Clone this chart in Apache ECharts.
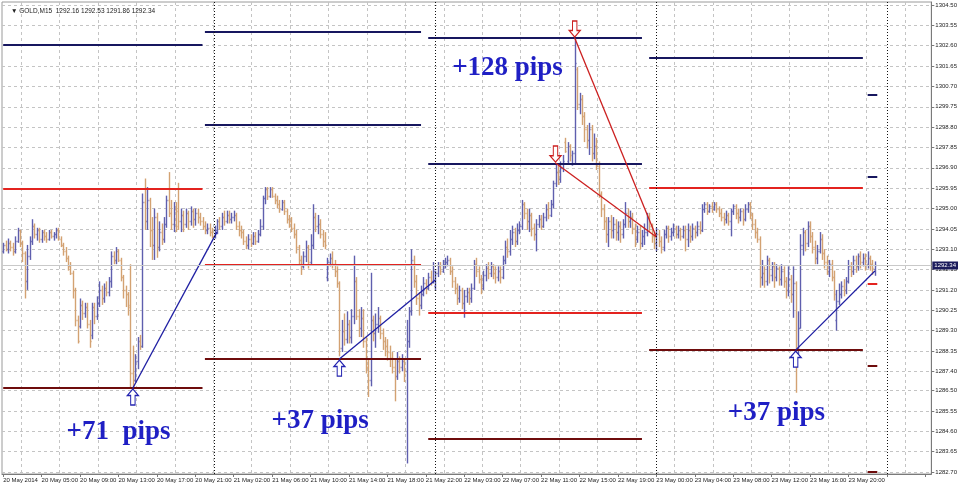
<!DOCTYPE html>
<html>
<head>
<meta charset="utf-8">
<title>GOLD,M15</title>
<script src="https://cdn.jsdelivr.net/npm/echarts@6.0.0/dist/echarts.min.js"></script>
<style>
  html, body { margin: 0; padding: 0; background: #fff; }
  #chart { width: 960px; height: 487px; }
</style>
</head>
<body>
<div id="chart"></div>
<script>
// 15-minute bars, [open, close, low, high], one array per trading day
var day20 = [
  [1293.0,1293.3,1292.9,1293.4],[1293.3,1293.1,1293.0,1293.5],[1293.1,1293.4,1292.9,1293.6],[1293.4,1293.2,1293.0,1293.5],
  [1293.2,1293.0,1292.8,1293.4],[1293.0,1293.5,1292.9,1293.7],[1293.5,1294.0,1293.4,1294.1],[1294.0,1293.4,1293.2,1294.0],
  [1293.4,1292.9,1292.5,1293.5],[1292.9,1291.6,1290.8,1293.0],[1291.6,1292.8,1291.2,1293.3],[1292.8,1293.5,1292.6,1293.7],
  [1293.5,1294.2,1293.3,1294.5],[1294.2,1293.8,1293.6,1294.3],[1293.8,1294.0,1293.5,1294.1],[1294.0,1293.6,1293.4,1294.1],
  [1293.6,1293.9,1293.4,1294.0],[1293.9,1293.7,1293.5,1294.0],[1293.7,1293.6,1293.4,1293.9],[1293.6,1293.9,1293.5,1294.0],
  [1293.9,1293.7,1293.6,1294.0],[1293.7,1293.8,1293.5,1293.9],[1293.8,1294.0,1293.6,1294.1],[1294.0,1293.6,1293.5,1294.1],
  [1293.6,1293.3,1293.2,1293.7],[1293.3,1293.0,1292.8,1293.4],[1293.0,1292.7,1292.5,1293.2],[1292.7,1292.3,1292.1,1292.8],
  [1292.3,1292.0,1291.9,1292.5],[1292.0,1291.2,1290.8,1292.1],[1291.2,1289.8,1289.5,1291.3],[1289.8,1288.8,1288.7,1290.0],
  [1289.5,1290.5,1289.4,1290.8],[1290.5,1290.1,1289.8,1290.7],[1290.1,1290.4,1289.9,1290.6],[1290.4,1289.6,1289.4,1290.6],
  [1289.6,1288.8,1288.5,1289.8],[1289.1,1290.4,1288.9,1290.6],[1290.4,1290.0,1289.6,1290.6],[1290.0,1290.6,1289.8,1290.9],
  [1290.6,1291.2,1290.4,1291.6],[1291.2,1290.8,1290.5,1291.4],[1290.8,1291.3,1290.6,1291.5],[1291.3,1291.1,1290.9,1291.6],
  [1291.1,1291.6,1290.9,1291.8],[1291.6,1292.8,1291.3,1293.0],[1292.8,1292.6,1292.4,1293.0],[1292.6,1293.0,1292.4,1293.2],
  [1293.0,1292.6,1292.5,1293.1],[1292.6,1291.8,1291.6,1292.7],[1291.8,1291.2,1290.8,1291.9],[1291.2,1291.0,1290.4,1291.4],
  [1291.0,1290.4,1290.0,1291.1],[1290.5,1287.3,1286.6,1292.4],[1287.3,1287.0,1286.6,1288.6],[1287.0,1287.9,1286.9,1288.2],
  [1287.9,1288.8,1287.5,1289.0],[1288.8,1288.6,1288.4,1289.1],[1288.6,1295.3,1288.5,1295.7],[1295.3,1294.4,1294.0,1296.4],
  [1294.4,1295.4,1294.0,1296.0],[1295.4,1294.0,1293.2,1295.5],[1294.0,1293.3,1292.6,1294.6],[1293.3,1294.6,1292.6,1295.0],
  [1294.6,1293.2,1292.7,1294.8],[1293.2,1293.9,1293.0,1294.4],[1293.9,1293.6,1293.3,1294.3],[1293.6,1294.3,1293.4,1294.6],
  [1294.3,1295.4,1294.1,1295.6],[1295.4,1294.8,1294.6,1296.7],[1294.8,1294.3,1294.0,1295.4],[1294.3,1295.0,1293.9,1295.3],
  [1295.0,1294.2,1293.9,1295.3],[1294.9,1294.4,1294.0,1296.2],[1294.4,1294.7,1293.9,1295.0],[1294.7,1294.3,1293.9,1294.9],
  [1294.3,1294.8,1294.1,1295.0],[1294.8,1294.4,1294.0,1294.9],[1294.4,1294.9,1294.2,1295.1],[1294.9,1294.5,1294.1,1295.0],
  [1294.5,1294.8,1294.2,1295.0],[1294.8,1294.6,1294.3,1295.0],[1294.6,1294.4,1294.2,1294.8],[1294.4,1294.2,1294.0,1294.6],
  [1294.2,1294.0,1293.8,1294.4],[1294.0,1294.1,1293.8,1294.3],[1294.1,1293.9,1293.7,1294.3],[1293.9,1293.7,1293.6,1294.1]
];
var day21 = [
  [1293.7,1294.0,1293.6,1294.2],[1294.0,1294.4,1293.8,1294.5],[1294.4,1294.2,1294.0,1294.6],[1294.2,1294.6,1294.0,1294.8],
  [1294.6,1294.4,1294.2,1294.9],[1294.4,1294.7,1294.3,1294.9],[1294.7,1294.5,1294.3,1294.9],[1294.5,1294.6,1294.3,1294.8],
  [1294.6,1294.7,1294.4,1294.9],[1294.7,1294.2,1294.0,1294.8],[1294.2,1294.0,1293.7,1294.4],[1294.0,1293.9,1293.6,1294.2],
  [1293.9,1293.5,1293.3,1294.0],[1293.5,1293.3,1293.1,1293.7],[1293.3,1293.6,1293.1,1293.8],[1293.6,1293.4,1293.2,1293.8],
  [1293.4,1293.7,1293.3,1293.9],[1293.7,1293.5,1293.3,1293.9],[1293.5,1293.8,1293.4,1294.0],[1293.8,1294.2,1293.7,1294.5],
  [1294.2,1295.5,1294.0,1295.6],[1295.5,1295.9,1295.2,1296.0],[1295.9,1295.6,1295.4,1296.0],[1295.6,1295.9,1295.5,1296.0],
  [1295.9,1295.6,1295.5,1296.0],[1295.6,1295.4,1295.2,1295.7],[1295.4,1295.2,1295.0,1295.6],[1295.2,1295.0,1294.8,1295.4],
  [1295.0,1295.3,1294.9,1295.4],[1295.3,1294.9,1294.7,1295.4],[1294.9,1294.5,1294.3,1295.0],[1294.5,1294.4,1294.1,1294.7],
  [1294.4,1294.1,1293.9,1294.6],[1294.1,1293.8,1293.6,1294.3],[1293.8,1293.2,1292.9,1294.0],[1293.2,1292.6,1292.4,1293.3],
  [1292.6,1292.3,1291.9,1292.8],[1292.3,1292.8,1292.2,1293.0],[1292.8,1293.2,1292.5,1293.5],[1293.2,1292.5,1292.2,1293.3],
  [1292.5,1293.3,1292.4,1293.8],[1293.3,1294.6,1293.1,1295.2],[1294.6,1294.2,1293.9,1294.8],[1294.2,1294.3,1293.8,1294.7],
  [1294.3,1293.8,1293.6,1294.5],[1293.8,1293.5,1293.2,1294.0],[1293.5,1293.3,1293.1,1293.9],[1291.8,1292.5,1291.6,1292.7],
  [1292.5,1292.7,1292.3,1292.9],[1292.7,1292.4,1292.2,1293.0],[1292.4,1292.1,1291.8,1292.6],[1292.1,1291.5,1291.3,1292.3],
  [1291.5,1288.5,1288.1,1291.6],[1288.5,1289.3,1288.3,1289.8],[1289.3,1288.9,1288.6,1290.1],[1288.9,1289.6,1288.7,1290.2],
  [1289.6,1289.0,1288.7,1289.8],[1289.0,1290.0,1288.7,1290.3],[1290.0,1291.6,1289.6,1292.8],[1291.6,1290.0,1289.8,1291.8],
  [1290.0,1289.4,1289.0,1290.3],[1289.4,1289.9,1289.0,1290.4],[1289.9,1288.8,1288.5,1290.3],[1288.8,1287.6,1287.3,1289.0],
  [1287.6,1287.0,1286.2,1288.0],[1287.0,1289.8,1286.7,1292.0],[1289.8,1289.2,1288.8,1290.0],[1289.2,1289.6,1288.5,1290.1],
  [1289.6,1289.9,1289.2,1290.4],[1289.9,1289.2,1288.9,1290.0],[1289.2,1288.8,1288.4,1289.4],[1288.8,1288.6,1288.1,1289.0],
  [1288.6,1288.3,1287.9,1288.9],[1288.3,1288.0,1287.6,1288.6],[1288.0,1287.6,1287.3,1288.3],[1287.6,1287.2,1286.0,1288.0],
  [1287.2,1287.9,1287.0,1288.3],[1287.9,1287.6,1287.3,1288.1],[1287.6,1287.9,1287.4,1288.2],[1287.9,1287.4,1286.9,1288.0],
  [1287.4,1288.8,1283.1,1289.8],[1288.8,1290.2,1288.5,1290.4],[1290.2,1292.6,1290.0,1293.1],[1292.6,1291.6,1291.3,1292.8],
  [1291.6,1290.8,1290.5,1291.9],[1290.8,1290.5,1290.0,1291.1],[1290.5,1291.0,1290.3,1291.4],[1291.0,1291.5,1290.9,1291.8],
  [1291.5,1291.3,1291.0,1291.7],[1291.3,1291.8,1291.2,1292.0],[1291.8,1291.6,1291.4,1292.1],[1291.6,1292.1,1291.5,1292.5]
];
var day22 = [
  [1291.4,1292.0,1291.2,1292.1],[1292.0,1292.3,1291.8,1292.5],[1292.3,1292.1,1291.9,1292.5],[1292.1,1292.4,1292.0,1292.6],
  [1292.4,1292.5,1292.2,1292.7],[1292.5,1292.6,1292.3,1292.8],[1292.6,1292.1,1291.9,1292.7],[1292.1,1291.6,1291.3,1292.3],
  [1291.6,1291.3,1291.0,1291.8],[1291.3,1290.8,1290.5,1291.5],[1290.8,1291.2,1290.6,1291.4],[1291.2,1290.6,1290.3,1291.3],
  [1290.6,1290.9,1289.9,1291.2],[1290.9,1291.1,1290.6,1291.3],[1291.1,1290.8,1290.5,1291.3],[1290.8,1291.3,1290.6,1291.5],
  [1291.3,1292.4,1291.2,1292.6],[1292.4,1292.1,1291.8,1292.7],[1292.1,1291.7,1291.5,1292.3],[1291.7,1291.3,1291.0,1291.9],
  [1291.3,1291.9,1291.2,1292.1],[1291.9,1292.2,1291.6,1292.4],[1292.2,1292.0,1291.7,1292.5],[1292.0,1292.3,1291.8,1292.5],
  [1292.3,1292.0,1291.7,1292.4],[1292.0,1291.8,1291.5,1292.3],[1291.8,1292.1,1291.6,1292.3],[1292.1,1291.8,1291.5,1292.3],
  [1291.8,1292.6,1291.7,1292.8],[1292.6,1293.2,1292.4,1293.5],[1293.2,1293.0,1292.7,1293.6],[1293.0,1293.6,1292.8,1294.0],
  [1293.6,1293.9,1293.3,1294.2],[1293.9,1293.5,1293.2,1294.1],[1293.5,1294.0,1293.3,1294.3],[1294.0,1294.2,1293.8,1294.4],
  [1294.2,1295.2,1294.0,1295.4],[1295.2,1294.8,1294.5,1295.3],[1294.8,1294.4,1294.0,1295.0],[1294.4,1294.7,1293.9,1295.0],
  [1294.7,1294.1,1293.7,1294.8],[1294.1,1293.8,1293.5,1294.3],[1293.8,1294.3,1293.0,1294.5],[1294.3,1294.5,1294.1,1294.7],
  [1294.5,1294.2,1294.0,1294.7],[1294.2,1294.6,1294.1,1294.8],[1294.6,1295.0,1294.4,1295.2],[1295.0,1294.7,1294.5,1295.3],
  [1294.7,1295.2,1294.6,1295.4],[1295.2,1296.2,1295.0,1296.3],[1296.2,1296.7,1296.0,1297.1],[1296.7,1296.4,1296.1,1297.0],
  [1296.4,1296.9,1296.2,1297.2],[1296.9,1297.2,1296.7,1297.5],[1298.1,1297.7,1297.6,1298.3],[1297.2,1297.9,1297.1,1298.1],
  [1297.9,1297.5,1297.2,1298.0],[1297.1,1297.6,1297.0,1297.7],[1297.6,1301.8,1297.1,1303.0],[1301.5,1299.9,1299.6,1301.6],
  [1299.9,1300.1,1299.4,1300.4],[1300.1,1299.3,1298.9,1300.3],[1299.3,1298.7,1298.1,1299.5],[1298.7,1298.2,1297.8,1298.9],
  [1298.2,1298.7,1297.5,1299.0],[1298.7,1297.6,1297.2,1298.9],[1297.6,1297.9,1297.3,1298.5],[1297.9,1297.0,1296.8,1298.3],
  [1297.0,1295.7,1295.5,1297.2],[1295.7,1295.0,1294.6,1295.8],[1295.0,1294.4,1294.0,1295.2],[1294.4,1293.8,1293.4,1294.6],
  [1293.8,1294.4,1293.2,1294.6],[1294.4,1294.0,1293.6,1294.7],[1294.0,1294.3,1293.6,1294.6],[1294.3,1293.9,1293.5,1294.5],
  [1293.9,1294.2,1293.5,1294.4],[1294.2,1293.8,1293.4,1294.4],[1293.8,1294.3,1293.6,1294.5],[1294.3,1294.8,1294.1,1295.3],
  [1294.8,1294.4,1294.1,1295.0],[1294.4,1294.6,1294.1,1294.9],[1294.6,1294.1,1293.8,1294.8],[1294.1,1293.6,1293.2,1294.3],
  [1293.6,1293.9,1293.4,1294.2],[1293.9,1293.4,1293.1,1294.2],[1293.4,1293.7,1293.2,1294.0],[1293.7,1293.9,1293.3,1294.3],
  [1293.9,1294.6,1293.7,1294.8],[1294.6,1294.2,1293.9,1294.8],[1294.2,1293.7,1293.4,1294.3],[1293.7,1293.4,1293.1,1293.9]
];
var day23 = [
  [1293.4,1293.8,1293.0,1294.1],[1293.8,1293.5,1293.2,1294.0],[1293.5,1293.2,1292.9,1293.7],[1293.2,1293.8,1293.0,1294.0],
  [1293.8,1294.1,1293.6,1294.2],[1294.1,1293.7,1293.4,1294.2],[1293.7,1293.9,1293.5,1294.1],[1293.9,1294.1,1293.7,1294.3],
  [1294.1,1293.8,1293.6,1294.2],[1293.8,1294.0,1293.6,1294.2],[1294.0,1293.7,1293.5,1294.1],[1293.7,1294.0,1293.6,1294.2],
  [1294.0,1293.6,1293.0,1294.2],[1293.6,1294.0,1293.2,1294.3],[1294.0,1293.7,1293.4,1294.2],[1293.7,1294.1,1293.5,1294.3],
  [1294.1,1293.9,1293.6,1294.2],[1293.9,1294.2,1293.7,1294.4],[1294.2,1294.0,1293.8,1294.4],[1294.0,1295.0,1293.9,1295.2],
  [1295.0,1295.2,1294.8,1295.3],[1295.2,1294.9,1294.7,1295.3],[1294.9,1295.1,1294.8,1295.2],[1295.1,1295.0,1294.8,1295.3],
  [1295.0,1295.2,1294.9,1295.3],[1295.2,1295.0,1294.8,1295.3],[1295.0,1294.8,1294.6,1295.1],[1294.8,1294.6,1294.4,1295.0],
  [1294.6,1294.5,1294.2,1294.8],[1294.5,1294.7,1294.3,1294.9],[1294.7,1294.4,1294.2,1294.8],[1294.4,1294.9,1293.7,1295.0],
  [1294.9,1295.1,1294.7,1295.2],[1295.1,1294.8,1294.5,1295.2],[1294.8,1294.6,1294.3,1295.0],[1294.6,1294.9,1294.4,1295.0],
  [1294.9,1294.5,1294.2,1295.0],[1294.5,1295.0,1294.4,1295.2],[1295.0,1295.2,1294.8,1295.3],[1295.2,1294.7,1294.5,1295.3],
  [1294.7,1294.3,1294.0,1294.8],[1294.3,1293.9,1293.6,1294.5],[1293.9,1293.6,1293.4,1294.1],[1293.6,1291.8,1291.3,1293.7],
  [1291.8,1292.0,1291.4,1292.6],[1292.0,1291.6,1291.3,1292.3],[1291.6,1292.6,1291.4,1292.8],[1292.6,1291.9,1291.5,1292.7],
  [1291.9,1292.3,1291.6,1292.5],[1292.3,1291.8,1291.3,1292.5],[1291.8,1292.2,1291.6,1292.4],[1292.2,1291.7,1291.4,1292.3],
  [1291.7,1292.1,1291.4,1292.4],[1292.1,1291.6,1291.3,1292.3],[1291.6,1291.2,1290.8,1291.8],[1291.2,1291.7,1290.9,1292.3],
  [1291.7,1291.0,1290.6,1291.9],[1291.0,1291.5,1289.9,1292.3],[1291.5,1288.5,1286.4,1291.6],[1288.5,1289.4,1288.2,1290.2],
  [1289.4,1293.3,1289.4,1293.8],[1293.3,1293.9,1292.8,1294.1],[1293.9,1293.4,1293.0,1294.0],[1293.4,1294.2,1293.2,1294.4],
  [1294.2,1293.7,1293.4,1294.4],[1293.7,1293.2,1292.9,1293.9],[1293.2,1292.7,1292.4,1293.5],[1292.7,1293.0,1292.4,1293.3],
  [1293.0,1293.6,1292.9,1293.9],[1293.6,1292.9,1292.6,1293.8],[1292.9,1292.5,1292.2,1293.1],[1292.5,1292.1,1291.9,1292.8],
  [1292.1,1292.4,1291.8,1292.6],[1292.4,1291.8,1291.6,1292.6],[1291.8,1291.0,1290.7,1292.1],[1289.8,1290.7,1289.3,1291.2],
  [1290.7,1291.0,1290.5,1291.5],[1291.0,1291.4,1290.8,1291.6],[1291.4,1291.2,1290.9,1291.7],[1291.2,1291.6,1291.0,1291.8],
  [1291.6,1292.3,1291.5,1292.6],[1292.3,1292.1,1291.8,1292.5],[1292.1,1292.6,1291.9,1292.8],[1292.6,1292.3,1292.0,1292.8],
  [1292.3,1292.8,1292.1,1292.9],[1292.8,1292.5,1292.2,1293.0],[1292.5,1292.7,1292.3,1292.9],[1292.7,1292.4,1292.1,1292.9],
  [1292.4,1292.7,1292.2,1293.0],[1292.7,1292.4,1292.1,1292.8],[1292.4,1292.2,1291.9,1292.6],[1292.16,1292.34,1291.86,1292.53]
];

var barCount = 387; // slots on the time axis incl. empty right margin
var timeLabels = ['20 May 2014', '20 May 05:00', '20 May 09:00', '20 May 13:00', '20 May 17:00', '20 May 21:00',
  '21 May 02:00', '21 May 06:00', '21 May 10:00', '21 May 14:00', '21 May 18:00', '21 May 22:00',
  '22 May 03:00', '22 May 07:00', '22 May 11:00', '22 May 15:00', '22 May 19:00',
  '23 May 00:00', '23 May 04:00', '23 May 08:00', '23 May 12:00', '23 May 16:00', '23 May 20:00'];
var priceTicks = [1282.70, 1283.65, 1284.60, 1285.55, 1286.50, 1287.40, 1288.35, 1289.30, 1290.25, 1291.20,
  1292.15, 1293.10, 1294.05, 1295.00, 1295.95, 1296.90, 1297.85, 1298.80, 1299.75, 1300.70, 1301.65,
  1302.60, 1303.55, 1304.50];
var daySeparators = [88, 180, 272, 368];

// pivot levels: [fromBar, toBar, price, kind]
var pivotLevels = [
  [0, 83, 1302.63, 'r'], [0, 83, 1295.91, 'p'], [0, 83, 1286.62, 's'],
  [84, 174, 1303.24, 'r'], [84, 174, 1298.90, 'r'], [84, 174, 1292.36, 'p'], [84, 174, 1287.97, 's'],
  [177, 266, 1302.96, 'r'], [177, 266, 1297.08, 'r'], [177, 266, 1290.12, 'p'], [177, 266, 1284.24, 's'],
  [269, 358, 1302.03, 'r'], [269, 358, 1295.96, 'p'], [269, 358, 1288.39, 's'],
  [360, 364, 1300.30, 'r'], [360, 364, 1296.47, 'r'], [360, 364, 1291.47, 'p'], [360, 364, 1287.65, 's'], [360, 364, 1282.70, 's']
];
// trend lines: [fromBar, fromPrice, toBar, toPrice, kind]
var trendLines = [
  [54, 1286.62, 89, 1293.90, 'up'],
  [140, 1287.97, 180, 1291.66, 'up'],
  [238, 1302.96, 272, 1293.67, 'down'],
  [230, 1297.12, 272, 1293.67, 'down'],
  [330, 1288.39, 363, 1292.08, 'up']
];
// arrows: [bar, price, kind]
var arrows = [
  [54, 1286.62, 'up'], [140, 1287.97, 'up'], [330, 1288.39, 'up'],
  [238, 1302.96, 'down'], [230, 1297.12, 'down']
];
// text notes: [bar, price, text]
var notes = [
  [48, 1284.55, '+71  pips'],
  [132, 1285.10, '+37 pips'],
  [210, 1301.56, '+128 pips'],
  [322, 1285.45, '+37 pips']
];

var bars = day20.concat(day21, day22, day23);
var lastBar = bars[bars.length - 1];
var upColor = '#5f5fae';
var downColor = '#d3a272';
var levelColors = { r: '#17175f', p: '#e3231f', s: '#6e0c0c' };
var trendColors = { up: '#1f1fa3', down: '#cc2020' };

var categories = [];
for (var i = 0; i < barCount; i++) categories.push(String(i));
var seriesData = bars.map(function (b, i) { return [i, b[0], b[1], b[2], b[3]]; });

var segmentData = [];
pivotLevels.forEach(function (p) {
  segmentData.push([
    { coord: [p[0], p[2]], lineStyle: { color: levelColors[p[3]], width: 2, type: 'solid' } },
    { coord: [p[1], p[2]] }
  ]);
});
trendLines.forEach(function (t) {
  segmentData.push([
    { coord: [t[0], t[1]], lineStyle: { color: trendColors[t[4]], width: 1.3, type: 'solid' } },
    { coord: [t[2], t[3]] }
  ]);
});
daySeparators.forEach(function (d) {
  segmentData.push({ xAxis: d, lineStyle: { color: '#111', width: 1, type: [1, 2] } });
});
segmentData.push({
  yAxis: lastBar[1],
  lineStyle: { color: '#c9c9c9', width: 1, type: 'solid' },
  label: {
    show: true, position: 'end', distance: 1, formatter: lastBar[1].toFixed(2),
    backgroundColor: '#1b1b5c', color: '#fff', fontSize: 6, padding: [1, 2, 1, 2],
    fontFamily: 'Liberation Sans, Arial, sans-serif'
  }
});

var upPath = 'path://M5,0 L10,6 L7,6 L7,15 L3,15 L3,6 L0,6 Z';
var downPath = 'path://M3,0 L7,0 L7,9 L10,9 L5,15 L0,9 L3,9 Z';
var pointData = [];
arrows.forEach(function (a) {
  var up = a[2] === 'up';
  pointData.push({
    coord: [a[0], a[1]],
    symbol: up ? upPath : downPath,
    symbolSize: [11, 16],
    symbolOffset: [0, up ? 9 : -9],
    itemStyle: { color: '#fff', borderColor: up ? '#2323b0' : '#cc2020', borderWidth: 1.2 },
    label: { show: false }
  });
});
notes.forEach(function (n) {
  pointData.push({
    coord: [n[0], n[1]],
    symbol: 'circle',
    symbolSize: 0,
    label: {
      show: true, position: 'inside', formatter: n[2],
      color: '#1f1fc4', fontSize: 27, fontWeight: 'bold',
      fontFamily: 'Liberation Serif, DejaVu Serif, serif'
    }
  });
});

var chart = echarts.init(document.getElementById('chart'));
chart.setOption({
  animation: false,
  backgroundColor: '#fff',
  title: {
    text: '\u25BC GOLD,M15  ' + lastBar[0].toFixed(2) + ' ' + lastBar[3].toFixed(2) + ' ' +
      lastBar[2].toFixed(2) + ' ' + lastBar[1].toFixed(2),
    left: 6, top: 3,
    textStyle: { fontSize: 6.5, fontWeight: 'normal', color: '#222', fontFamily: 'Liberation Sans Narrow, Liberation Sans, sans-serif' }
  },
  grid: {
    left: 2, right: 28, top: 2, bottom: 13,
    show: true, borderColor: '#9a9a9a', borderWidth: 1, backgroundColor: '#fff'
  },
  xAxis: {
    type: 'category',
    data: categories,
    boundaryGap: true,
    axisLine: { lineStyle: { color: '#7a7a7a' } },
    axisTick: { show: true, interval: 15, alignWithLabel: true, length: 3, lineStyle: { color: '#7a7a7a' } },
    axisLabel: {
      interval: 15, align: 'left', margin: 3, fontSize: 6, color: '#222',
      fontFamily: 'Liberation Sans Narrow, Liberation Sans, sans-serif',
      formatter: function (v, idx) { return timeLabels[idx / 16] || ''; }
    },
    splitLine: {
      show: true,
      interval: function (idx) { return idx % 16 === 8; },
      lineStyle: { color: '#c4c4c4', type: [3, 3], width: 1 }
    }
  },
  yAxis: {
    type: 'value',
    position: 'right',
    min: 1282.607,
    max: 1304.64,
    axisLine: { show: true, lineStyle: { color: '#7a7a7a' } },
    axisTick: { show: true, length: 3, customValues: priceTicks, lineStyle: { color: '#7a7a7a' } },
    axisLabel: {
      customValues: priceTicks, margin: 4, fontSize: 6, color: '#222',
      fontFamily: 'Liberation Sans, Arial, sans-serif',
      formatter: function (v) { return v.toFixed(2); }
    },
    splitLine: { show: true, lineStyle: { color: '#c4c4c4', type: [3, 3], width: 1 } }
  },
  series: [{
    type: 'custom',
    data: seriesData,
    encode: { x: 0, y: [1, 2, 3, 4] },
    renderItem: function (params, api) {
      var idx = api.value(0);
      var o = api.value(1), c = api.value(2), l = api.value(3), h = api.value(4);
      var pl = api.coord([idx, l]);
      var ph = api.coord([idx, h]);
      var po = api.coord([idx, o]);
      var pc = api.coord([idx, c]);
      var x = Math.round(pl[0]) + 0.5;
      var color = c >= o ? upColor : downColor;
      var st = { stroke: color, lineWidth: 1.4 };
      return {
        type: 'group',
        children: [
          { type: 'line', shape: { x1: x, y1: pl[1], x2: x, y2: ph[1] }, style: st },
          { type: 'line', shape: { x1: x - 1, y1: Math.round(po[1]) + 0.5, x2: x, y2: Math.round(po[1]) + 0.5 }, style: st },
          { type: 'line', shape: { x1: x, y1: Math.round(pc[1]) + 0.5, x2: x + 1, y2: Math.round(pc[1]) + 0.5 }, style: st }
        ]
      };
    },
    markLine: {
      silent: true,
      symbol: ['none', 'none'],
      label: { show: false },
      data: segmentData
    },
    markPoint: {
      silent: true,
      data: pointData
    }
  }]
});
</script>
</body>
</html>
